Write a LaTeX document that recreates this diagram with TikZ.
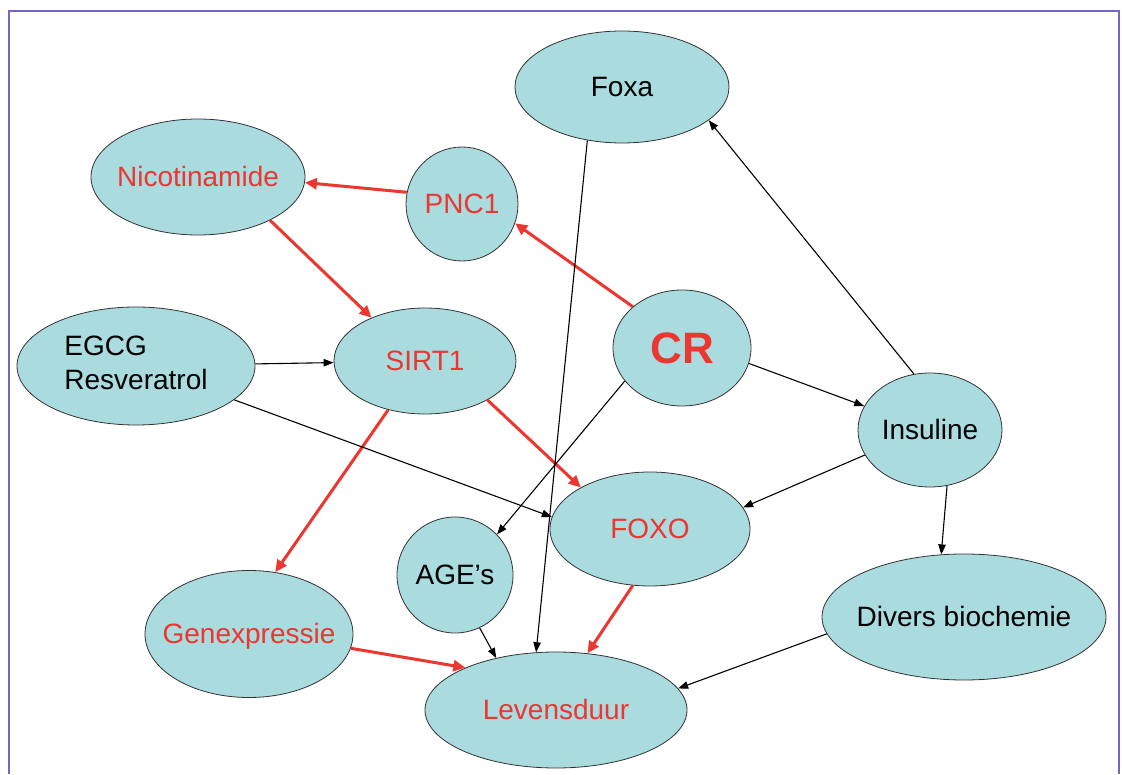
\documentclass[tikz,border=0pt]{standalone}
\usepackage{fontspec}
\setmainfont{Liberation Sans}
\usetikzlibrary{shapes.geometric,arrows.meta}
\definecolor{bubble}{RGB}{170,219,223}
\definecolor{redc}{RGB}{236,54,48}
\definecolor{frame}{RGB}{118,104,190}
\newcommand{\zt}[1]{\makebox[0pt][c]{#1}}
\tikzset{
  bub/.style={ellipse, draw=black!80, line width=0.8pt, fill=bubble, inner sep=0pt,
    font=\fontsize{28}{34}\selectfont, text height=20pt, text depth=0pt},
  redtxt/.style={text=redc},
  blk/.style={draw=black, line width=1.1pt, -{Triangle[length=10pt,width=7.5pt]}},
  rd/.style={draw=redc, line width=3pt, -{Triangle[length=12pt,width=11pt]}},
}
\begin{document}
\begin{tikzpicture}[x=1pt,y=1pt]
\useasboundingbox (0,0) rectangle (1122,774);
\fill[white] (0,0) rectangle (1122,774);
\draw[frame, line width=2pt] (9,0) -- (9,763) -- (1119,763) -- (1119,0);

\node[bub, minimum width=214pt, minimum height=112pt] (foxa) at (622,687) {\zt{Foxa}};
\node[bub, redtxt, minimum width=214pt, minimum height=116pt] (nico) at (198,597) {\zt{Nicotinamide}};
\node[bub, redtxt, minimum width=112pt, minimum height=114pt] (pnc1) at (462,570) {\zt{PNC1}};
\node[ellipse, draw=black!80, line width=0.8pt, fill=bubble, inner sep=0pt,
      minimum width=238pt, minimum height=118pt, font=\fontsize{28}{34}\selectfont] (egcg) at (136,408)
      {\makebox[0pt][c]{\begin{tabular}{@{}l@{}}EGCG\\Resveratrol\end{tabular}}};
\node[bub, redtxt, minimum width=182pt, minimum height=106pt] (sirt1) at (425,413) {\zt{SIRT1}};
\node[bub, redtxt, minimum width=138pt, minimum height=116pt, font=\fontsize{44}{50}\selectfont\bfseries, text height=32pt] (cr) at (682,426) {\zt{CR}};
\node[bub, minimum width=144pt, minimum height=114pt] (ins) at (930,344) {\zt{Insuline}};
\node[bub, redtxt, minimum width=200pt, minimum height=114pt] (foxo) at (650,245) {\zt{FOXO}};
\node[bub, minimum width=116pt, minimum height=116pt] (age) at (455,199) {\zt{AGE’s}};
\node[bub, redtxt, minimum width=208pt, minimum height=127pt] (gen) at (249,140) {\zt{Genexpressie}};
\node[bub, minimum width=284pt, minimum height=126pt] (div) at (964,157) {\zt{Divers biochemie}};
\node[bub, redtxt, minimum width=262pt, minimum height=116pt] (lev) at (556,64) {\zt{Levensduur}};

% red connectors
\draw[rd] (pnc1.168.5) -- (nico.357);
\draw[rd] (nico.329) -- (sirt1.141);
\draw[rd] (cr.140.6) -- (pnc1.340.6);
\draw[rd] (sirt1.328) -- (foxo.149.6);
\draw[rd] (sirt1.233) -- (gen.67.9);
\draw[rd] (gen.352.5) -- (lev.155);
\draw[rd] (foxo.253.6) -- (lev.61.1);

% black connectors
\draw[blk] (foxa.237.3) -- (lev.109.5);
\draw[blk] (egcg.1.5) -- (sirt1.181);
\draw[blk] (egcg.341) -- (foxo.173);
\draw[blk] (cr.210) -- (age.44.3);
\draw[blk] (cr.347.6) -- (ins.160);
\draw[blk] (ins.106.6) -- (foxa.339.6);
\draw[blk] (ins.201) -- (foxo.13.3);
\draw[blk] (ins.287.5) -- (div.110.6);
\draw[blk] (age.295) -- (lev.139.7);
\draw[blk] (div.187.7) -- (lev.10.2);
\end{tikzpicture}
\end{document}
